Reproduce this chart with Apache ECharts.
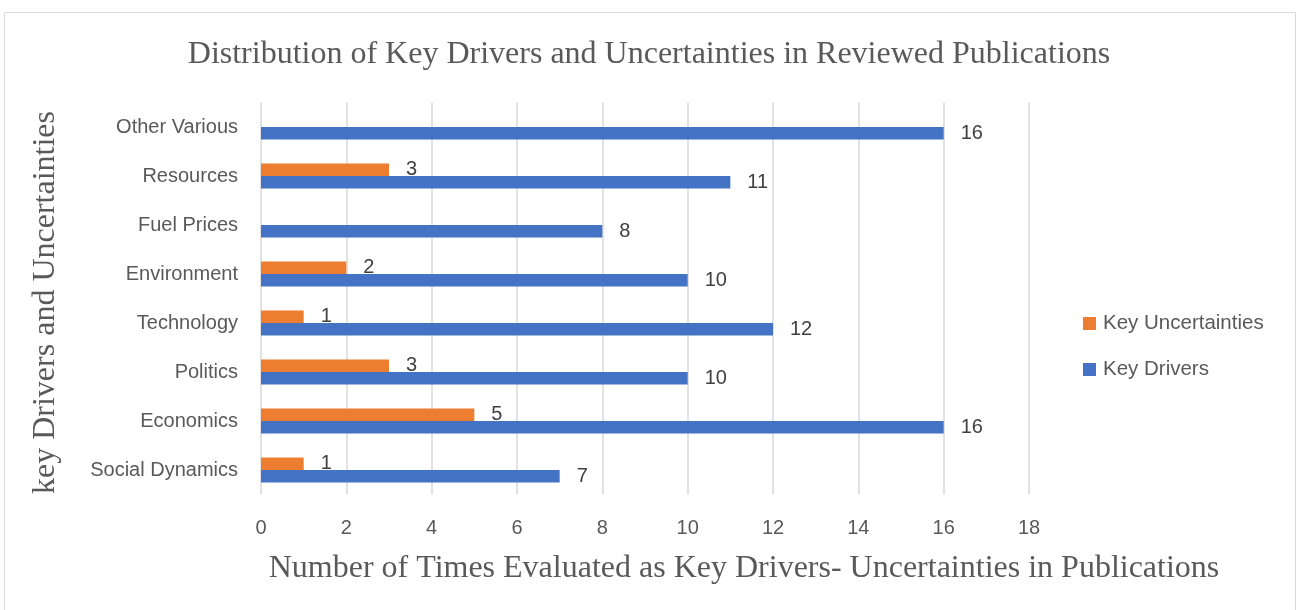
<!DOCTYPE html>
<html>
<head>
<meta charset="utf-8">
<script src="https://cdn.jsdelivr.net/npm/echarts@6/dist/echarts.min.js"></script>
<style>
  html, body { margin: 0; padding: 0; background: #fff; }
  #main { width: 1298px; height: 610px; }
</style>
</head>
<body>
<div id="main"></div>
<script>
const categories = ['Social Dynamics', 'Economics', 'Politics', 'Technology', 'Environment', 'Fuel Prices', 'Resources', 'Other Various'];
const keyUncertainties = [1, 5, 3, 1, 2, null, 3, null];
const keyDrivers = [7, 16, 10, 12, 10, 8, 11, 16];
const xTicks = { min: 0, max: 18, interval: 2 };

const sans = '"Liberation Sans", Arial, sans-serif';
const serif = '"Liberation Serif", "Times New Roman", serif';

const chart = echarts.init(document.getElementById('main'));

const barLabel = {
    show: true,
    position: 'right',
    distance: 17,
    color: '#404040',
    fontFamily: sans,
    fontSize: 20
};

const option = {
    animation: false,
    title: {
        text: 'Distribution of Key Drivers and Uncertainties in Reviewed Publications',
        left: 'center',
        top: 34,
        textStyle: { fontFamily: serif, fontSize: 32, fontWeight: 'normal', color: '#595959' }
    },
    graphic: [{
        type: 'rect',
        shape: { x: 4.5, y: 12.5, width: 1291, height: 610 },
        style: { fill: 'none', stroke: '#d9d9d9', lineWidth: 1 }
    }],
    legend: {
        orient: 'vertical',
        left: 1083,
        top: 313,
        padding: 0,
        itemWidth: 13,
        itemHeight: 13,
        itemGap: 25,
        icon: 'rect',
        textStyle: { fontFamily: sans, fontSize: 20.5, color: '#595959', lineHeight: 20, padding: [0, 0, 0, 2] },
        data: ['Key Uncertainties', 'Key Drivers']
    },
    grid: { left: 261, right: 269, top: 102.5, bottom: 115.5 },
    xAxis: {
        type: 'value',
        min: xTicks.min,
        max: xTicks.max,
        interval: xTicks.interval,
        name: 'Number of Times Evaluated as Key Drivers- Uncertainties in Publications',
        nameLocation: 'middle',
        nameGap: 58,
        nameTextStyle: { fontFamily: serif, fontSize: 32, color: '#595959', padding: [0, 0, 0, 198] },
        axisLine: { show: false },
        axisTick: { show: false },
        axisLabel: { margin: 24, fontFamily: sans, fontSize: 20, color: '#595959' },
        splitLine: { lineStyle: { color: '#d9d9d9', width: 1.5 } }
    },
    yAxis: {
        type: 'category',
        data: categories,
        name: 'key Drivers and Uncertainties',
        nameLocation: 'middle',
        nameRotate: 90,
        nameGap: 199,
        nameTextStyle: { fontFamily: serif, fontSize: 32, color: '#595959', padding: [0, 8, 0, 0] },
        axisLine: { show: false },
        axisTick: { show: false },
        axisLabel: { margin: 23, fontFamily: sans, fontSize: 20, color: '#595959' }
    },
    series: [
        {
            name: 'Key Uncertainties',
            type: 'bar',
            data: keyUncertainties,
            barWidth: 12.5,
            barGap: '0%',
            itemStyle: { color: '#ED7D31' },
            label: barLabel
        },
        {
            name: 'Key Drivers',
            type: 'bar',
            data: keyDrivers,
            barWidth: 12.5,
            barGap: '0%',
            itemStyle: { color: '#4472C4' },
            label: barLabel
        }
    ]
};

chart.setOption(option);
</script>
</body>
</html>
